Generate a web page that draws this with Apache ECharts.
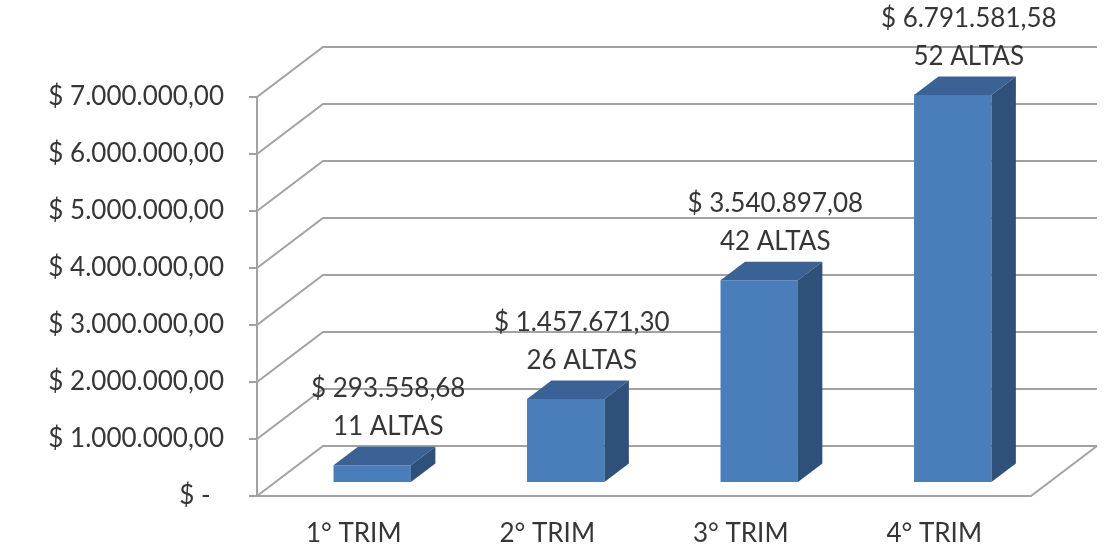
<!DOCTYPE html>
<html>
<head>
<meta charset="utf-8">
<script src="https://cdn.jsdelivr.net/npm/echarts@6/dist/echarts.min.js"></script>
<style>
html,body{margin:0;padding:0;background:#fff;}
#chart{width:1109px;height:550px;}
</style>
</head>
<body>
<div id="chart"></div>
<script>
var categories = ['1° TRIM', '2° TRIM', '3° TRIM', '4° TRIM'];
var totals = [293558.68, 1457671.30, 3540897.08, 6791581.58];
var altas = [11, 26, 42, 52];
var yTicks = [0, 1000000, 2000000, 3000000, 4000000, 5000000, 6000000, 7000000];

// style constants
var DEPTH_X = 66, DEPTH_Y = -50;      // oblique depth vector of the plot box
var BAR_FRONT = 0.28, BAR_DEPTH = 0.37; // bar placement in depth (fractions)
var BAR_W = 0.4;                       // bar width as fraction of band
var GRID_COLOR = '#a2a2a2';
var TEXT_COLOR = '#363636';
var FONT = 'Lato';

function fmtNum(v) {
  var parts = v.toFixed(2).split('.');
  var intPart = parts[0].replace(/\B(?=(\d{3})+(?!\d))/g, '.');
  return intPart + ',' + parts[1];
}

var chart = echarts.init(document.getElementById('chart'));

var option = {
  animation: false,
  grid: { left: 257, right: 78, top: 97, bottom: 54 },
  xAxis: {
    type: 'category',
    data: categories,
    axisLine: { lineStyle: { color: GRID_COLOR, width: 2 } },
    axisTick: { length: 8, lineStyle: { color: GRID_COLOR, width: 2 } },
    axisLabel: { color: TEXT_COLOR, fontFamily: FONT, fontSize: 26, margin: 24, lineHeight: 28 }
  },
  yAxis: {
    type: 'value',
    min: 0, max: 7000000, interval: 1000000,
    axisLine: { show: true, lineStyle: { color: GRID_COLOR, width: 2 } },
    axisTick: { show: true, length: 8, lineStyle: { color: GRID_COLOR, width: 2 } },
    splitLine: { show: false },
    axisLabel: {
      color: TEXT_COLOR, fontFamily: FONT, fontSize: 26, margin: 33,
      formatter: function (v) {
        if (v === 0) return '$ -  ';
        return '$ ' + fmtNum(v);
      }
    }
  },
  series: [
    {
      type: 'custom',
      z: 1,
      silent: true,
      data: yTicks.map(function (v) { return [0, v]; }),
      renderItem: function (params, api) {
        var cs = params.coordSys;
        var y = api.coord([0, api.value(1)])[1];
        var x0 = cs.x, x1 = cs.x + cs.width;
        var children = [{
          type: 'polyline',
          shape: { points: [[x0, y], [x0 + DEPTH_X, y + DEPTH_Y], [x1 + DEPTH_X, y + DEPTH_Y]] },
          style: { stroke: GRID_COLOR, lineWidth: 2, fill: null }
        }];
        if (api.value(1) === 0) {
          children.push({
            type: 'line',
            shape: { x1: x1, y1: y, x2: x1 + DEPTH_X, y2: y + DEPTH_Y },
            style: { stroke: GRID_COLOR, lineWidth: 2 }
          });
        }
        return { type: 'group', children: children };
      }
    },
    {
      type: 'custom',
      z: 3,
      silent: true,
      data: totals.map(function (v, i) { return [i, v, altas[i]]; }),
      renderItem: function (params, api) {
        var idx = api.value(0), val = api.value(1);
        var top = api.coord([idx, val]);
        var base = api.coord([idx, 0]);
        var band = api.size([1, 0])[0];
        var bw = band * BAR_W;
        var fx = DEPTH_X * BAR_FRONT, fy = DEPTH_Y * BAR_FRONT;
        var bx = DEPTH_X * BAR_DEPTH, by = DEPTH_Y * BAR_DEPTH;
        var l = top[0] + fx - bw / 2, r = top[0] + fx + bw / 2;
        var t = top[1] + fy, b = base[1] + fy;
        var label = '$ ' + fmtNum(val) + '\n' + api.value(2) + ' ALTAS';
        return {
          type: 'group',
          children: [
            { type: 'rect', shape: { x: l, y: t, width: bw, height: b - t },
              style: { fill: '#4a7ebb' } },
            { type: 'polygon', shape: { points: [[l, t], [r, t], [r + bx, t + by], [l + bx, t + by]] },
              style: { fill: '#3b6294' } },
            { type: 'polygon', shape: { points: [[r, t], [r, b], [r + bx, b + by], [r + bx, t + by]] },
              style: { fill: '#2f5079' } },
            { type: 'text', x: top[0] + fx + 16, y: t + by - 1,
              style: { text: label, fill: TEXT_COLOR, font: '26px ' + FONT,
                       lineHeight: 38, align: 'center', verticalAlign: 'bottom' } }
          ]
        };
      }
    }
  ]
};
chart.setOption(option);
</script>
</body>
</html>
